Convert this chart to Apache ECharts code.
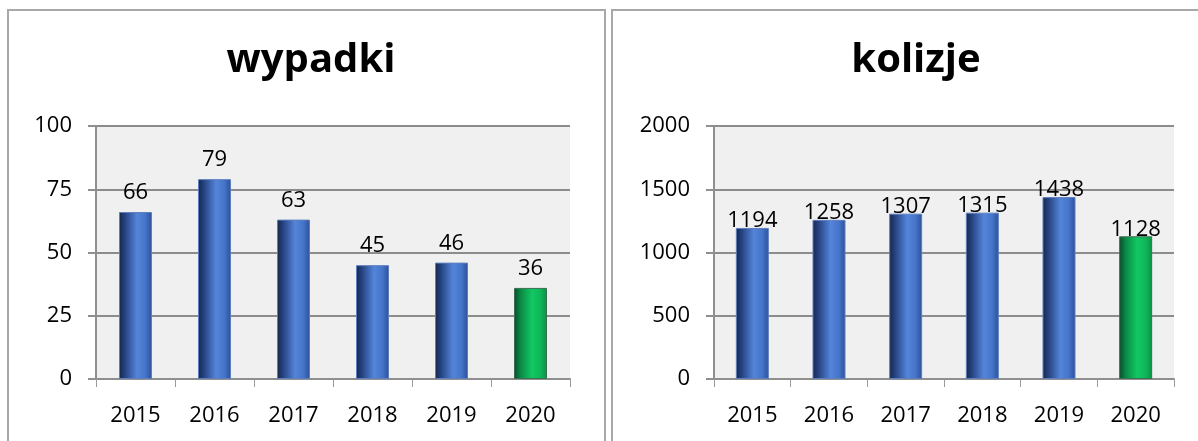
<!DOCTYPE html>
<html>
<head>
<meta charset="utf-8">
<script src="https://cdn.jsdelivr.net/npm/echarts@6/dist/echarts.min.js"></script>
<style>
  html, body { margin: 0; padding: 0; background: #fff; }
  #chart { width: 1198px; height: 441px; }
</style>
</head>
<body>
<div id="chart"></div>
<script>
const years = ["2015", "2016", "2017", "2018", "2019", "2020"];
const wypadki = [66, 79, 63, 45, 46, 36];
const kolizje = [1194, 1258, 1307, 1315, 1438, 1128];
const highlightYear = "2020";

const FONT = "'Open Sans', 'DejaVu Sans', sans-serif";

const blueBar = {
    type: "linear", x: 0, y: 0, x2: 1, y2: 0,
    colorStops: [
        { offset: 0, color: "#15264a" },
        { offset: 0.2, color: "#284686" },
        { offset: 0.55, color: "#5485da" },
        { offset: 0.8, color: "#4574c8" },
        { offset: 1, color: "#2c5099" }
    ]
};
const greenBar = {
    type: "linear", x: 0, y: 0, x2: 1, y2: 0,
    colorStops: [
        { offset: 0, color: "#0b4a2a" },
        { offset: 0.2, color: "#0a8a45" },
        { offset: 0.55, color: "#12c862" },
        { offset: 0.8, color: "#0fb658" },
        { offset: 1, color: "#0a9248" }
    ]
};

function barData(values) {
    return values.map((v, i) => ({
        value: v,
        itemStyle: {
            color: years[i] === highlightYear ? greenBar : blueBar,
            borderColor: years[i] === highlightYear ? "#3a6f52" : "#5d7fc0",
            borderWidth: 1
        }
    }));
}

function xAxis(gridIndex) {
    return {
        type: "category",
        gridIndex,
        data: years,
        boundaryGap: true,
        axisLine: { lineStyle: { color: "#8f8f8f", width: 2 } },
        axisTick: { show: true, length: 8, lineStyle: { color: "#9a9a9a", width: 1 } },
        axisLabel: { color: "#000", fontFamily: FONT, fontSize: 22, margin: 26 }
    };
}

function yAxis(gridIndex, max, interval) {
    return {
        type: "value",
        gridIndex,
        min: 0,
        max,
        interval,
        axisLine: { show: true, lineStyle: { color: "#8f8f8f", width: 2 } },
        axisTick: { show: true, length: 8, lineStyle: { color: "#8f8f8f", width: 2 } },
        axisLabel: { color: "#000", fontFamily: FONT, fontSize: 22, margin: 24,
                     formatter: v => String(v) },
        splitLine: { show: true, lineStyle: { color: "#8c8c8c", width: 2 } }
    };
}

function barSeries(idx, values, distance) {
    return {
        type: "bar",
        xAxisIndex: idx,
        yAxisIndex: idx,
        barWidth: 33,
        data: barData(values),
        label: {
            show: true,
            position: "top",
            distance,
            color: "#000",
            fontFamily: FONT,
            fontSize: 22
        }
    };
}

const chart = echarts.init(document.getElementById("chart"), null, { renderer: "canvas" });

chart.setOption({
    backgroundColor: "#fff",
    animation: false,
    graphic: [
        { type: "rect", shape: { x: 8, y: 10, width: 597, height: 440 },
          style: { fill: "none", stroke: "#a8a8a8", lineWidth: 2 } },
        { type: "rect", shape: { x: 612, y: 10, width: 600, height: 440 },
          style: { fill: "none", stroke: "#a8a8a8", lineWidth: 2 } }
    ],
    title: [
        { text: "wypadki", left: 306, top: 36, textAlign: "center",
          textStyle: { fontFamily: FONT, fontWeight: "bold", fontSize: 40, color: "#000" } },
        { text: "kolizje", left: 911, top: 36, textAlign: "center",
          textStyle: { fontFamily: FONT, fontWeight: "bold", fontSize: 40, color: "#000" } }
    ],
    grid: [
        { left: 96, top: 126, width: 474, height: 253, show: true,
          backgroundColor: "#f0f0f0", borderWidth: 0 },
        { left: 714, top: 126, width: 460, height: 253, show: true,
          backgroundColor: "#f0f0f0", borderWidth: 0 }
    ],
    xAxis: [xAxis(0), xAxis(1)],
    yAxis: [yAxis(0, 100, 25), yAxis(1, 2000, 500)],
    series: [
        barSeries(0, wypadki, 8),
        barSeries(1, kolizje, -4)
    ]
});
</script>
</body>
</html>
